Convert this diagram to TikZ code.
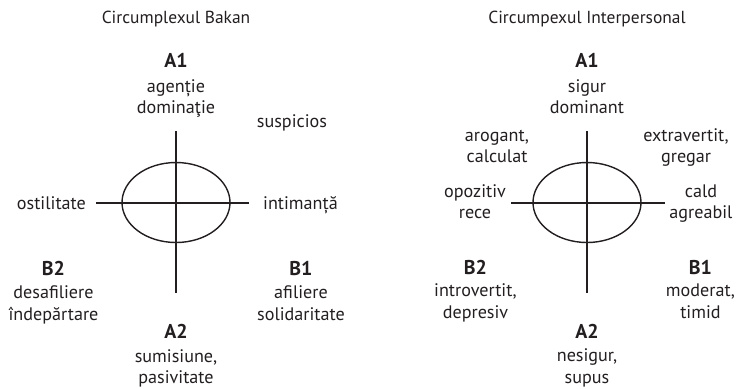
\documentclass[tikz,border=0pt]{standalone}
\usepackage{fontspec}
\setmainfont{PT Sans}
\usetikzlibrary{shapes.geometric}
\definecolor{ink}{HTML}{231F20}
\begin{document}
\begin{tikzpicture}[x=1bp,y=-1bp,
  txt/.style={anchor=base, inner sep=0pt, text=ink, font=\fontsize{18.2}{21}\selectfont},
  lbl/.style={txt, font=\fontsize{20}{23}\selectfont\bfseries},
  ttl/.style={txt, font=\fontsize{17.5}{20}\selectfont},
  axis/.style={line width=1.4bp, draw=ink},
  ring/.style={ellipse, draw=ink, line width=1.4bp, inner sep=0pt, minimum width=108bp, minimum height=80bp}]
\useasboundingbox (0,0) rectangle (737,388);
% ---------- left: Circumplexul Bakan ----------
\node[ttl] (tL) at (176,23) {Circumplexul Bakan};
\node[ring] (eL) at (176,202.5) {};
\coordinate (vLt) at (176,131);
\coordinate (vLb) at (176,293);
\coordinate (hLl) at (96,203);
\coordinate (hLr) at (249,203);
\draw[axis] (vLt) -- (vLb);
\draw[axis] (hLl) -- (hLr);
\node[lbl] (a1L) at (176,67) {A1};
\node[txt] (a1La) at (176,92) {agenție};
\node[txt] (a1Lb) at (176,113) {dominaţie};
\node[txt] (susp) at (292,127) {suspicios};
\node[txt,anchor=base east] (ost) at (86,209) {ostilitate};
\node[txt,anchor=base west] (intm) at (263,209) {intimanță};
\node[lbl] (b2L) at (53.5,275) {B2};
\node[txt] (b2La) at (53.5,298) {desafiliere};
\node[txt] (b2Lb) at (53.5,320) {îndepărtare};
\node[lbl] (b1L) at (301,275) {B1};
\node[txt] (b1La) at (301,298) {afiliere};
\node[txt] (b1Lb) at (301,320) {solidaritate};
\node[lbl] (a2L) at (176,338) {A2};
\node[txt] (a2La) at (176,362) {sumisiune,};
\node[txt] (a2Lb) at (176,383) {pasivitate};
% ---------- right: Circumpexul Interpersonal ----------
\node[ttl] (tR) at (587,23) {Circumpexul Interpersonal};
\node[ring] (eR) at (587,202.5) {};
\coordinate (vRt) at (587,131);
\coordinate (vRb) at (587,293);
\coordinate (hRl) at (511,203);
\coordinate (hRr) at (665,203);
\draw[axis] (vRt) -- (vRb);
\draw[axis] (hRl) -- (hRr);
\node[lbl] (a1R) at (587,67) {A1};
\node[txt] (a1Ra) at (587,92) {sigur};
\node[txt] (a1Rb) at (587,113) {dominant};
\node[txt] (arog) at (497,141) {arogant,};
\node[txt] (calc) at (497,162) {calculat};
\node[txt] (extr) at (686,141) {extravertit,};
\node[txt] (greg) at (686,162) {gregar};
\node[txt] (opoz) at (475,197) {opozitiv};
\node[txt] (rece) at (475,218) {rece};
\node[txt] (cald) at (701,197) {cald};
\node[txt] (agre) at (701,218) {agreabil};
\node[lbl] (b2R) at (475.5,274) {B2};
\node[txt] (b2Ra) at (475.5,296) {introvertit,};
\node[txt] (b2Rb) at (475.5,318) {depresiv};
\node[lbl] (b1R) at (700.5,274) {B1};
\node[txt] (b1Ra) at (700.5,296) {moderat,};
\node[txt] (b1Rb) at (700.5,318) {timid};
\node[lbl] (a2R) at (587,338) {A2};
\node[txt] (a2Ra) at (587,361) {nesigur,};
\node[txt] (a2Rb) at (587,383) {supus};
\end{tikzpicture}
\end{document}
